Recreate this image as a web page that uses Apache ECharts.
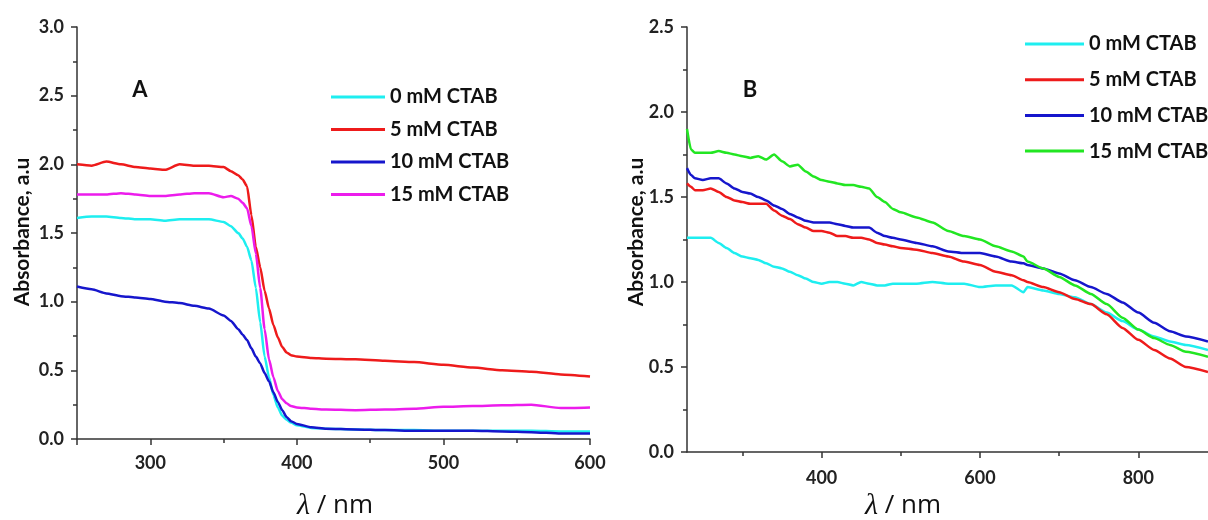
<!DOCTYPE html>
<html>
<head>
<meta charset="utf-8">
<script src="https://cdn.jsdelivr.net/npm/echarts@6/dist/echarts.min.js"></script>
<style>
html,body{margin:0;padding:0;background:#fff;}
#chart{width:1208px;height:520px;}
</style>
</head>
<body>
<div id="chart"></div>
<script>
// ---------- Panel A data ----------
const waveA = [250,260,270,280,290,300,310,320,330,340,350,355,360,363,366,369,372,375,378,381,384,387,390,393,396,400,410,420,440,460,480,500,520,540,560,580,600];
const redA = [2.00,1.99,2.02,2.00,1.98,1.97,1.96,2.00,1.99,1.99,1.98,1.95,1.92,1.89,1.84,1.63,1.40,1.25,1.08,0.95,0.83,0.74,0.67,0.63,0.61,0.60,0.59,0.585,0.58,0.57,0.56,0.54,0.52,0.50,0.49,0.47,0.455];
const magentaA = [1.78,1.78,1.78,1.79,1.78,1.77,1.77,1.78,1.79,1.79,1.76,1.77,1.75,1.72,1.68,1.55,1.35,1.10,0.80,0.58,0.45,0.35,0.29,0.26,0.24,0.23,0.22,0.215,0.21,0.215,0.22,0.235,0.24,0.245,0.25,0.225,0.23];
const cyanA = [1.61,1.62,1.62,1.61,1.60,1.60,1.59,1.60,1.60,1.60,1.58,1.55,1.50,1.46,1.40,1.30,1.10,0.85,0.60,0.45,0.32,0.23,0.17,0.14,0.12,0.10,0.08,0.075,0.07,0.065,0.065,0.06,0.06,0.06,0.06,0.055,0.055];
const blueA = [1.11,1.09,1.06,1.04,1.03,1.02,1.00,0.99,0.97,0.95,0.90,0.86,0.80,0.76,0.72,0.66,0.60,0.55,0.48,0.42,0.34,0.27,0.21,0.16,0.13,0.11,0.085,0.075,0.07,0.065,0.06,0.06,0.06,0.055,0.05,0.04,0.04];

// ---------- Panel B data ----------
const waveB = [230,235,240,250,260,270,280,290,300,310,320,330,340,350,360,370,380,390,400,410,420,430,440,450,460,470,480,490,500,520,540,560,580,600,620,640,655,660,680,700,720,740,760,780,800,820,840,860,888];
const cyanB = [1.26,1.26,1.26,1.26,1.26,1.23,1.20,1.17,1.15,1.14,1.13,1.11,1.09,1.08,1.06,1.04,1.02,1.00,0.99,1.00,1.00,0.99,0.98,1.00,0.99,0.98,0.98,0.99,0.99,0.99,1.00,0.99,0.99,0.97,0.98,0.98,0.94,0.97,0.95,0.93,0.91,0.87,0.82,0.77,0.72,0.68,0.65,0.63,0.60];
const redB = [1.58,1.56,1.54,1.54,1.55,1.53,1.50,1.48,1.47,1.46,1.46,1.46,1.42,1.39,1.37,1.34,1.32,1.30,1.30,1.29,1.27,1.27,1.26,1.26,1.25,1.23,1.22,1.21,1.20,1.19,1.17,1.15,1.12,1.10,1.06,1.04,1.01,1.00,0.97,0.94,0.90,0.87,0.81,0.73,0.66,0.60,0.55,0.50,0.47];
const blueB = [1.67,1.63,1.61,1.60,1.61,1.61,1.58,1.55,1.53,1.52,1.50,1.48,1.45,1.43,1.40,1.38,1.36,1.35,1.35,1.35,1.34,1.33,1.32,1.32,1.32,1.29,1.27,1.26,1.25,1.23,1.21,1.18,1.17,1.17,1.15,1.12,1.11,1.10,1.08,1.05,1.01,0.97,0.93,0.88,0.82,0.76,0.71,0.68,0.65];
const greenB = [1.90,1.78,1.76,1.76,1.76,1.77,1.76,1.75,1.74,1.73,1.74,1.72,1.75,1.71,1.68,1.69,1.65,1.62,1.60,1.59,1.58,1.57,1.57,1.56,1.55,1.50,1.47,1.43,1.41,1.38,1.35,1.30,1.27,1.25,1.21,1.18,1.15,1.12,1.08,1.03,0.98,0.93,0.87,0.79,0.72,0.67,0.63,0.59,0.56];

// ---------- labels / ticks ----------
const legendNames = ['0 mM CTAB','5 mM CTAB','10 mM CTAB','15 mM CTAB'];
const yTitle = 'Absorbance, a.u';
const xTitleSymbol = 'λ';
const xTitleUnit = ' / nm';
const xMajorA = [250,300,400,500,600];
const xLabelA = [300,400,500,600];
const xMinorA = [350,450,550];
const xMajorB = [400,600,800];
const xMinorB = [300,500,700];

const C = {cyan:'#1EEEF0', red:'#EE1B1B', blue:'#1616CC', magenta:'#EC1CEC', green:'#22E622'};
const FONT = 'Lato';
const axisColor = '#333';

function pairs(xs, ys){ return xs.map((x,i)=>[x, ys[i]]); }

function majorX(grid, min, max, ticks, labels, margin){
  return {type:'value', gridIndex:grid, min:min, max:max, position:'bottom',
    axisLine:{show:true, onZero:false, lineStyle:{color:axisColor, width:1.5}},
    axisTick:{show:true, customValues:ticks, length:6, lineStyle:{color:axisColor, width:1.5}},
    axisLabel:{show:true, customValues:labels, margin:margin, color:'#222', fontFamily:FONT, fontWeight:'bold', fontSize:18},
    splitLine:{show:false}};
}
function minorX(grid, min, max, ticks){
  return {type:'value', gridIndex:grid, min:min, max:max, position:'bottom',
    axisLine:{show:false, onZero:false},
    axisTick:{show:true, customValues:ticks, length:4, lineStyle:{color:axisColor, width:1.5}},
    axisLabel:{show:false}, splitLine:{show:false}};
}
function yAx(grid, max, margin){
  return {type:'value', gridIndex:grid, min:0, max:max, interval:0.5,
    axisLine:{show:true, lineStyle:{color:axisColor, width:1.5}},
    axisTick:{show:true, length:6, lineStyle:{color:axisColor, width:1.5}},
    minorTick:{show:true, splitNumber:2, length:4, lineStyle:{color:axisColor, width:1.5}},
    axisLabel:{margin:margin, color:'#222', fontFamily:FONT, fontWeight:'bold', fontSize:18, formatter:v=>v.toFixed(1)},
    splitLine:{show:false}, minorSplitLine:{show:false}};
}
function line(name, data, color, xi, yi){
  return {type:'line', name:name, data:data, xAxisIndex:xi, yAxisIndex:yi, symbol:'none', showSymbol:false,
    smooth:0.2, smoothMonotone:'x', lineStyle:{color:color, width:2.5}, itemStyle:{color:color}, z:3};
}
function legend(prefix, names, left, top, w, gap){
  return {orient:'vertical', left:left, top:top, padding:0, itemWidth:w, itemHeight:3, itemGap:gap, icon:'rect',
    selectedMode:false, data:names.map(n=>prefix+n), formatter:n=>n.slice(2),
    textStyle:{fontFamily:FONT, fontWeight:'bold', fontSize:20, color:'#111', lineHeight:20}};
}
function xTitle(cx, cy){
  return {type:'text', x:cx, y:cy, style:{text:'{l|'+xTitleSymbol+'}{n|'+xTitleUnit+'}', textAlign:'center', textVerticalAlign:'middle',
    rich:{l:{fontFamily:'Liberation Serif', fontStyle:'italic', fontSize:30, fill:'#111'}, n:{fontFamily:'Open Sans', fontSize:26, fill:'#111'}}}};
}
function yTitleG(cx, cy){
  return {type:'text', x:cx, y:cy, rotation:Math.PI/2, style:{text:yTitle, textAlign:'center', textVerticalAlign:'middle',
    fontFamily:FONT, fontWeight:'bold', fontSize:21, fill:'#111'}};
}

const aNames = ['A:'+legendNames[0],'A:'+legendNames[1],'A:'+legendNames[2],'A:'+legendNames[3]];
const bNames = ['B:'+legendNames[0],'B:'+legendNames[1],'B:'+legendNames[2],'B:'+legendNames[3]];

const option = {
  animation:false,
  backgroundColor:'#fff',
  grid:[
    {left:77, right:618, top:27, bottom:81},
    {left:687, right:0, top:27, bottom:68}
  ],
  xAxis:[
    majorX(0, 250, 600, xMajorA, xLabelA, 15),
    minorX(0, 250, 600, xMinorA),
    majorX(1, 230, 888, xMajorB, xMajorB, 17),
    minorX(1, 230, 888, xMinorB)
  ],
  yAxis:[ yAx(0, 3, 13), yAx(1, 2.5, 13) ],
  legend:[
    legend('A:', legendNames, 331, 87, 54, 12.5),
    legend('B:', legendNames, 1025, 34, 59, 15.7)
  ],
  series:[
    line(aNames[0], pairs(waveA, cyanA), C.cyan, 0, 0),
    line(aNames[1], pairs(waveA, redA), C.red, 0, 0),
    line(aNames[2], pairs(waveA, blueA), C.blue, 0, 0),
    line(aNames[3], pairs(waveA, magentaA), C.magenta, 0, 0),
    line(bNames[0], pairs(waveB, cyanB), C.cyan, 2, 1),
    line(bNames[1], pairs(waveB, redB), C.red, 2, 1),
    line(bNames[2], pairs(waveB, blueB), C.blue, 2, 1),
    line(bNames[3], pairs(waveB, greenB), C.green, 2, 1)
  ],
  graphic:[
    {type:'text', x:140, y:90, style:{text:'A', textAlign:'center', textVerticalAlign:'middle', fontFamily:FONT, fontWeight:'bold', fontSize:22, fill:'#111'}},
    {type:'text', x:750, y:90, style:{text:'B', textAlign:'center', textVerticalAlign:'middle', fontFamily:FONT, fontWeight:'bold', fontSize:22, fill:'#111'}},
    xTitle(335, 506),
    xTitle(903, 506),
    yTitleG(22, 232),
    yTitleG(636, 232)
  ]
};

const chart = echarts.init(document.getElementById('chart'), null, {renderer:'canvas'});
chart.setOption(option);
</script>
</body>
</html>
